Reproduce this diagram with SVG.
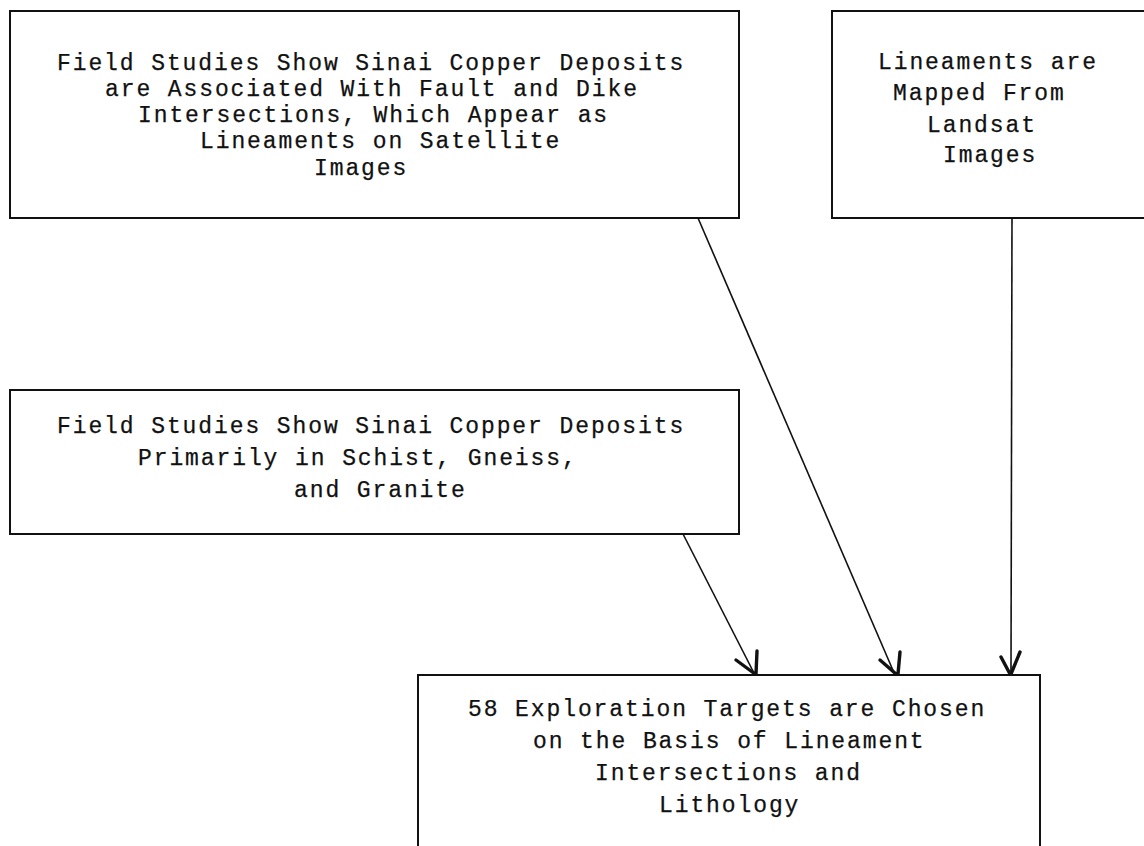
<svg xmlns="http://www.w3.org/2000/svg" width="1144" height="846" viewBox="0 0 1144 846">
<style>
.box{fill:none;stroke:#111;stroke-width:2}
.t{font-family:"Liberation Mono","Courier New",monospace;font-size:23px;letter-spacing:1.9px;fill:#111;stroke:#111;stroke-width:0.25}
.ln{fill:none;stroke:#111;stroke-width:1.6}
.hd{fill:none;stroke:#111;stroke-width:3.4;stroke-linecap:round;stroke-linejoin:round}
</style>
<rect width="1144" height="846" fill="#fff"/>
<g id="node-field-faults">
<rect class="box" x="10" y="11" width="729" height="207"/>
<text class="t" x="57" y="70">Field Studies Show Sinai Copper Deposits</text>
<text class="t" x="105" y="96">are Associated With Fault and Dike</text>
<text class="t" x="138" y="122">Intersections, Which Appear as</text>
<text class="t" x="200" y="148">Lineaments on Satellite</text>
<text class="t" x="314" y="175">Images</text>
</g>
<g id="node-landsat">
<path class="box" d="M1150,11 H832 V218 H1150"/>
<text class="t" x="878" y="69">Lineaments are</text>
<text class="t" x="893" y="100">Mapped From</text>
<text class="t" x="927" y="132">Landsat</text>
<text class="t" x="943" y="162">Images</text>
</g>
<g id="node-field-lithology">
<rect class="box" x="10" y="390" width="729" height="144"/>
<text class="t" x="57" y="433">Field Studies Show Sinai Copper Deposits</text>
<text class="t" x="138" y="465">Primarily in Schist, Gneiss,</text>
<text class="t" x="294" y="497">and Granite</text>
</g>
<g id="node-targets">
<path class="box" d="M418,850 V675 H1040 V850"/>
<text class="t" x="468" y="716">58 Exploration Targets are Chosen</text>
<text class="t" x="533" y="748">on the Basis of Lineament</text>
<text class="t" x="595" y="780">Intersections and</text>
<text class="t" x="659" y="812">Lithology</text>
</g>
<g id="connectors">
<path class="ln" d="M683,534 L755,675"/>
<path class="hd" d="M736,660 L755,674 M757,651 L756,674"/>
<path class="ln" d="M698,218 L895,675"/>
<path class="hd" d="M880,660 L896,674 M900,652 L898,674"/>
<path class="ln" d="M1012,218 L1011,675"/>
<path class="hd" d="M1001,657 L1010,674 M1020,652 L1011,674"/>
</g>
</svg>
